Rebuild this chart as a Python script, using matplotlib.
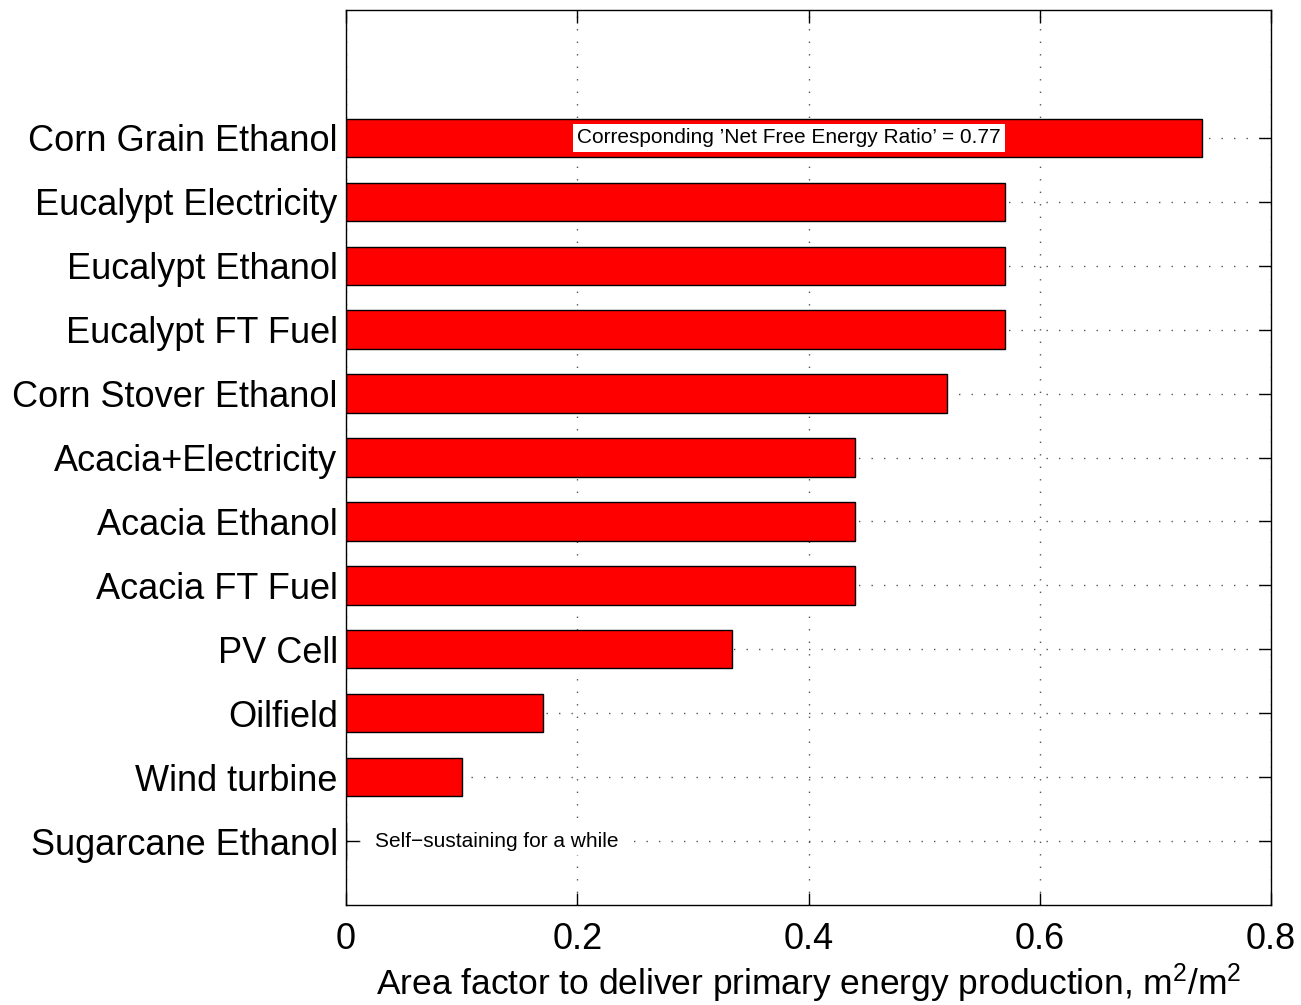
import matplotlib
matplotlib.use("Agg")
import matplotlib.pyplot as plt
import numpy as np

plt.rcParams['font.family'] = ['Liberation Sans', 'DejaVu Sans']
plt.rcParams['mathtext.fontset'] = 'custom'
plt.rcParams['mathtext.rm'] = 'Liberation Sans'
plt.rcParams['mathtext.it'] = 'Liberation Sans:italic'
plt.rcParams['mathtext.bf'] = 'Liberation Sans:bold'

categories = ["Sugarcane Ethanol", "Wind turbine", "Oilfield", "PV Cell",
              "Acacia FT Fuel", "Acacia Ethanol", "Acacia+Electricity",
              "Corn Stover Ethanol", "Eucalypt FT Fuel", "Eucalypt Ethanol",
              "Eucalypt Electricity", "Corn Grain Ethanol"]
values = [0.0, 0.10, 0.17, 0.334, 0.44, 0.44, 0.44, 0.52, 0.57, 0.57, 0.57, 0.74]
xticks = [0, 0.2, 0.4, 0.6, 0.8]
xtick_labels = ["0", "0.2", "0.4", "0.6", "0.8"]
note_top = "Corresponding \u2019Net Free Energy Ratio\u2019 = 0.77"
note_bottom = "Self\u2212sustaining for a while"

fig = plt.figure(figsize=(13.01, 10.05), dpi=100)
ax = fig.add_axes([346/1301, 1-905/1005, (1271-346)/1301, (905-10)/1005])

y = np.arange(1, len(categories) + 1)
ax.barh(y, values, height=0.6, color='#ff0000', edgecolor='black', linewidth=1.0, zorder=2)

ax.set_xlim(0, 0.8)
ax.set_ylim(0, 14)
ax.set_yticks(y)
ax.set_yticklabels(categories, fontsize=26)
ax.set_xticks(xticks)
ax.set_xticklabels(xtick_labels, fontsize=26)
ax.tick_params(direction='in', length=9, width=1, top=True, right=True, pad=6)
ax.tick_params(axis='x', pad=12)
ax.grid(True, linestyle=(0, (1, 8)), color='#555555', linewidth=1.0)
ax.set_axisbelow(True)
for s in ax.spines.values():
    s.set_linewidth(1.0)

ax.set_xlabel("Area factor to deliver primary energy production, m$^{\\mathrm{2}}$/m$^{\\mathrm{2}}$",
              fontsize=25.5)
ax.xaxis.set_label_coords(0.5, -0.0635, transform=ax.transAxes)
ax.xaxis.label.set_va('top')

ax.text(0.2, y[-1], note_top, fontsize=15, va='center', ha='left', zorder=5,
        bbox=dict(facecolor='white', edgecolor='none', pad=3))
ax.text(0.025, y[0], note_bottom, fontsize=15, va='center', ha='left', zorder=5,
        bbox=dict(facecolor='white', edgecolor='none', pad=3))

fig.savefig("out.png", dpi=100)
